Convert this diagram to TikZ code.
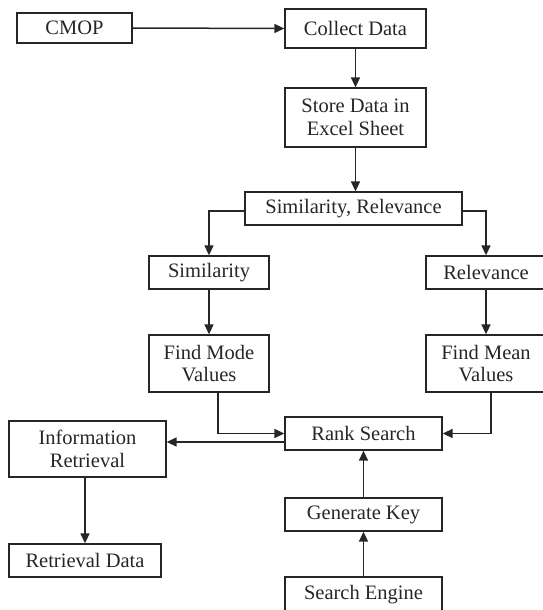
\documentclass[tikz,border=0pt]{standalone}
\usepackage{fontspec}
\setmainfont{Liberation Serif}
\usetikzlibrary{arrows.meta,calc}
\begin{document}
\begin{tikzpicture}[x=1pt,y=-1pt,
  box/.style={draw=black!85,line width=1.3pt,inner sep=0pt,align=center,
    font=\fontsize{20.5}{22.5}\selectfont,text=black!85},
  conn/.style={line width=1.5pt,draw=black!85,-{Triangle[length=10pt,width=9pt]}}]
\useasboundingbox (0,0) rectangle (543,610);
\clip (0,0) rectangle (543,610);
\node[box,minimum width=115,minimum height=30] (cmop) at (74.5,28) {CMOP};
\node[box,minimum width=141,minimum height=39] (collect) at (355.5,28.5) {Collect Data};
\node[box,minimum width=141,minimum height=59] (store) at (355.5,117.5) {Store Data in\\Excel Sheet};
\node[box,minimum width=217,minimum height=33] (simrel) at (353.5,208.5) {Similarity, Relevance};
\node[box,minimum width=120,minimum height=33] (sim) at (209,272.5) {Similarity};
\node[box,minimum width=120,minimum height=33] (rel) at (486,272.5) {Relevance};
\node[box,minimum width=120,minimum height=57] (mode) at (209,363.5) {Find Mode\\Values};
\node[box,minimum width=120,minimum height=57] (mean) at (486,363.5) {Find Mean\\Values};
\node[box,minimum width=157,minimum height=33] (rank) at (363.5,433.5) {Rank Search};
\node[box,minimum width=157,minimum height=56] (info) at (87.5,449) {Information\\Retrieval};
\node[box,minimum width=152,minimum height=33] (retr) at (85,560.5) {Retrieval Data};
\node[box,minimum width=157,minimum height=33] (key) at (363.5,514.5) {Generate Key};
\node[box,minimum width=157,minimum height=36] (engine) at (363.5,595) {Search Engine};
\draw[conn] (cmop.east) -- (collect.west);
\draw[conn] (collect.south) -- (store.north);
\draw[conn] (store.south) -- (store.south |- simrel.north);
\draw[conn] ($(simrel.west)+(0,2.5)$) -| (sim.north);
\draw[conn] ($(simrel.east)+(0,2.5)$) -| (rel.north);
\draw[conn] (sim.south) -- (mode.north);
\draw[conn] (rel.south) -- (mean.north);
\draw[conn] ($(mode.south)+(9,0)$) |- (rank.west);
\draw[conn] ($(mean.south)+(5,0)$) |- (rank.east);
\coordinate (rk) at ($(rank.west)+(0,8.5)$);
\draw[conn] (rk) -- (info.east |- rk);
\draw[conn] (info.south -| retr.north) -- (retr.north);
\draw[conn] (key.north) -- (rank.south);
\draw[conn] (engine.north) -- (key.south);
\end{tikzpicture}
\end{document}
